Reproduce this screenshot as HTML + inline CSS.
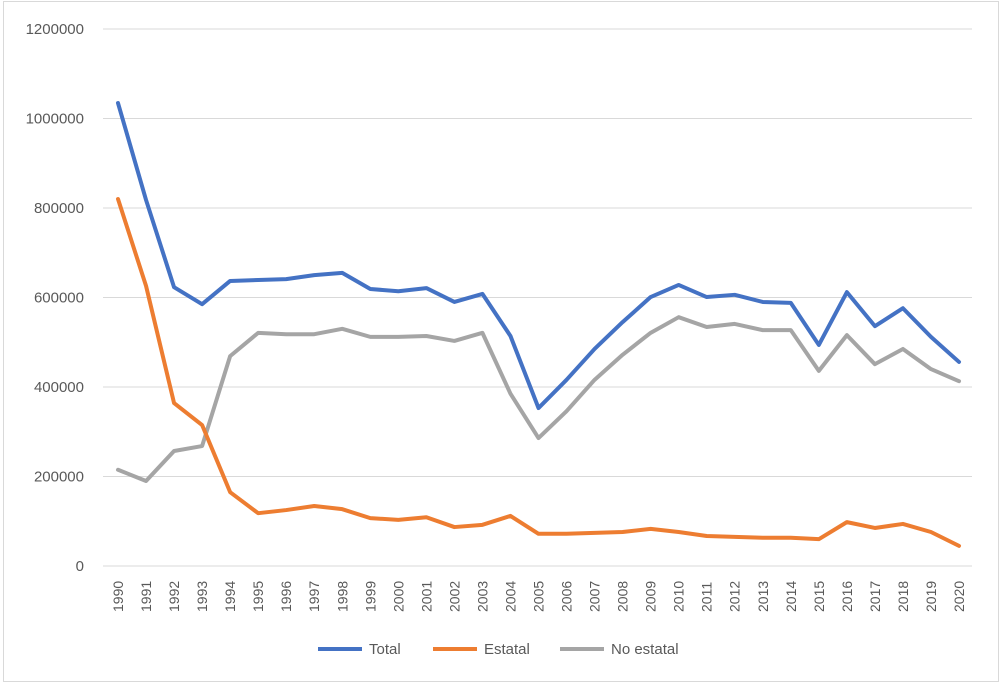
<!DOCTYPE html>
<html><head><meta charset="utf-8"><style>
html,body{margin:0;padding:0;background:#fff;}
svg{display:block;font-family:"Liberation Sans",sans-serif;}
</style></head><body>
<svg id="chart" width="1002" height="684" viewBox="0 0 1002 684" xmlns="http://www.w3.org/2000/svg">
<rect x="3.5" y="1.5" width="995" height="680" fill="#fff" stroke="#d9d9d9" stroke-width="1"/>
<g id="grid"></g><g id="yticks"></g><g id="xticks"></g><g id="series"></g>
<g font-size="15" fill="#595959">
<g><line x1="318" y1="649" x2="362" y2="649" stroke="#4472c4" stroke-width="4"/><text x="369" y="654">Total</text></g>
<g><line x1="433" y1="649" x2="477" y2="649" stroke="#ed7d31" stroke-width="4"/><text x="484" y="654">Estatal</text></g>
<g><line x1="560" y1="649" x2="604" y2="649" stroke="#a5a5a5" stroke-width="4"/><text x="611" y="654">No estatal</text></g>
</g>
</svg>
<script>
const years=[1990,1991,1992,1993,1994,1995,1996,1997,1998,1999,2000,2001,2002,2003,2004,2005,2006,2007,2008,2009,2010,2011,2012,2013,2014,2015,2016,2017,2018,2019,2020];
const total=[1034600,818000,623000,585000,637000,639000,641000,650000,655000,619000,614000,621000,590000,608000,514000,353000,416000,485000,545000,601000,628000,601000,606000,590000,588000,494000,612000,536000,576000,512000,456000];
const estatal=[820000,626000,364000,315000,165000,118000,125000,134000,127000,107000,103000,109000,87000,92000,112000,72000,72000,74000,76000,83000,76000,67000,65000,63000,63000,60000,98000,85000,94000,76000,45000];
const noEstatal=[215000,190000,257000,268000,469000,521000,518000,518000,530000,512000,512000,514000,503000,521000,385000,286000,346000,416000,472000,521000,556000,534000,541000,527000,527000,436000,516000,451000,485000,440000,413000];
const yTicks=[0,200000,400000,600000,800000,1000000,1200000];
const NS="http://www.w3.org/2000/svg";
const x0=118,x1=959,yBase=566,yTop=29,yMax=1200000,gl=103,gr=972;
const xS=i=>x0+(x1-x0)*i/(years.length-1);
const yS=v=>yBase-(yBase-yTop)*v/yMax;
function mk(tag,attrs,parent){const e=document.createElementNS(NS,tag);for(const k in attrs)e.setAttribute(k,attrs[k]);parent.appendChild(e);return e;}
const grid=document.getElementById('grid'),yt=document.getElementById('yticks'),xt=document.getElementById('xticks'),ser=document.getElementById('series');
yTicks.forEach(v=>{
 const l=mk('line',{x1:gl,x2:gr,y1:yS(v),y2:yS(v),stroke:'#d9d9d9','stroke-width':1},grid);
 
 
 const t=mk('text',{x:84,y:yS(v)+5,'text-anchor':'end','font-size':15,fill:'#595959'},yt);
 t.textContent=v;
 
 
});
years.forEach((yr,i)=>{
 const t=mk('text',{transform:`translate(${xS(i)+5},612) rotate(-90)`,'font-size':14,fill:'#595959'},xt);
 t.textContent=yr;
 
 
});
[[noEstatal,'#a5a5a5','series-no-estatal'],[estatal,'#ed7d31','series-estatal'],[total,'#4472c4','series-total']].forEach(([d,c,n])=>{
 const p=mk('polyline',{points:d.map((v,i)=>xS(i)+','+yS(v)).join(' '),fill:'none',stroke:c,'stroke-width':4,'stroke-linejoin':'round','stroke-linecap':'round'},ser);
 
 
});
</script>
</body></html>
